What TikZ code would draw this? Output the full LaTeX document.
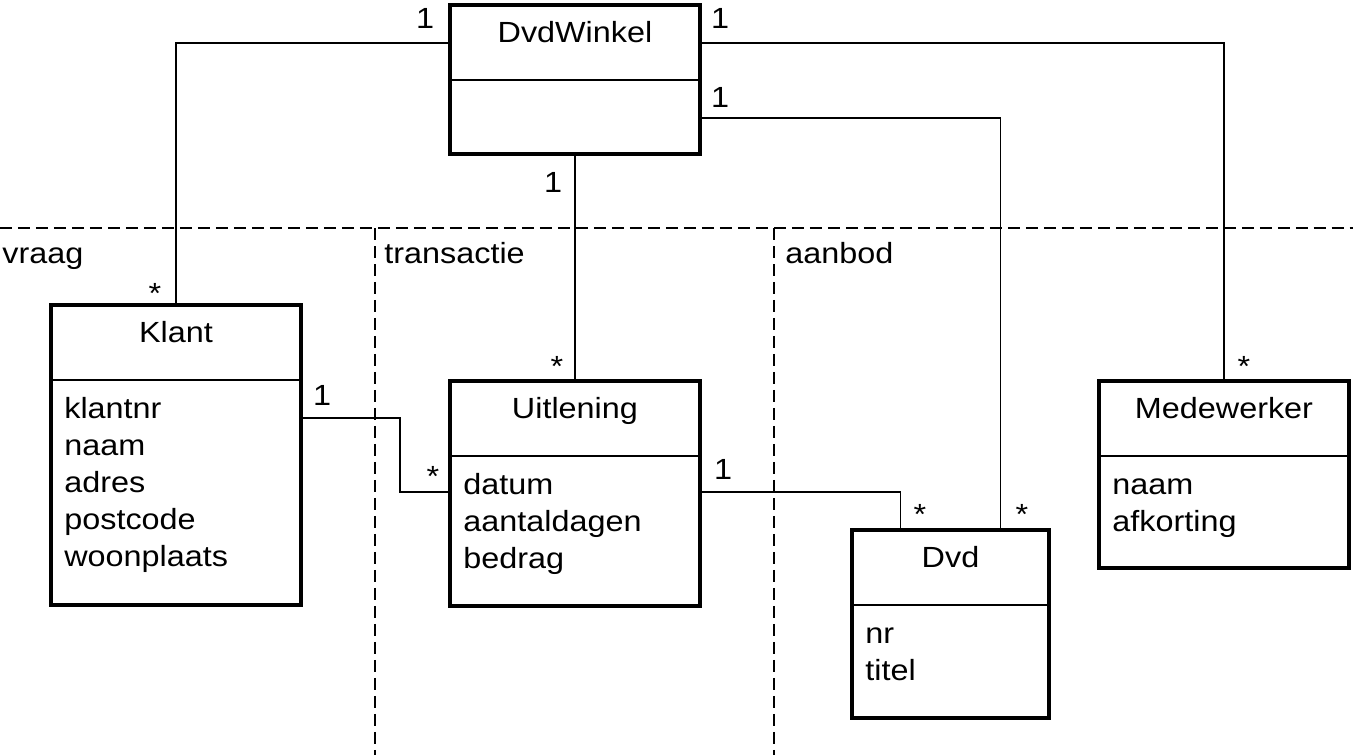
\documentclass[tikz,border=0pt]{standalone}
\usepackage{fontspec}
\setmainfont{Liberation Sans}[FakeStretch=1.11]
\usepackage{tikz}
\usepackage{xcolor}

\begin{document}
\begin{tikzpicture}[x=0.02cm, y=-0.02cm,
  font=\fontsize{16.6}{21}\selectfont,
  klasse/.style={draw, rectangle, line width=1.9pt, anchor=north west, outer sep=0pt, inner sep=0pt, minimum width=5cm},
  kop/.style={anchor=base, inner sep=0pt},
  attr/.style={anchor=base west, inner sep=0pt},
  deel/.style={line width=1.1pt},
  lijn/.style={line width=1.1pt},
  grens/.style={line width=0.7pt, dash pattern=on 0.24cm off 0.12cm},
  mult/.style={anchor=base, inner sep=0pt}]
\useasboundingbox (0,0) rectangle (1353,755);

% zones
\draw[grens] (0,228) -- (1353,228);
\draw[grens] (375,228) -- (375,755);
\draw[grens] (774,228) -- (774,755);
\node[anchor=base west, inner sep=0pt] (vraag) at (2,263) {vraag};
\node[anchor=base west, inner sep=0pt] (transactie) at (384,263) {transactie};
\node[anchor=base west, inner sep=0pt] (aanbod) at (785,263) {aanbod};

% classes
\node[klasse, minimum height=2.98cm] (dvdwinkel) at (450,5) {};
\node[klasse, minimum height=6cm] (klant) at (51,305) {};
\node[klasse, minimum height=4.5cm] (uitlening) at (450,381) {};
\node[klasse, minimum width=3.94cm, minimum height=3.76cm] (dvd) at (852,530) {};
\node[klasse, minimum height=3.74cm] (medewerker) at (1099,381) {};

\node[kop] (dvdwinkelkop) at ([yshift=-0.74cm]dvdwinkel.north) {DvdWinkel};
\node[kop] (klantkop) at ([yshift=-0.74cm]klant.north) {Klant};
\node[kop] (uitleningkop) at ([yshift=-0.74cm]uitlening.north) {Uitlening};
\node[kop] (dvdkop) at ([yshift=-0.74cm]dvd.north) {Dvd};
\node[kop] (medewerkerkop) at ([yshift=-0.74cm]medewerker.north) {Medewerker};

\draw[deel] ([yshift=-1.5cm]dvdwinkel.north west) -- ([yshift=-1.5cm]dvdwinkel.north east);
\draw[deel] ([yshift=-1.5cm]klant.north west) -- ([yshift=-1.5cm]klant.north east);
\draw[deel] ([yshift=-1.5cm]uitlening.north west) -- ([yshift=-1.5cm]uitlening.north east);
\draw[deel] ([yshift=-1.5cm]dvd.north west) -- ([yshift=-1.5cm]dvd.north east);
\draw[deel] ([yshift=-1.5cm]medewerker.north west) -- ([yshift=-1.5cm]medewerker.north east);

\node[attr] (klantattr) at ([xshift=0.26cm, yshift=-2.27cm]klant.north west)
  {\begin{tabular}[t]{@{}l@{}}klantnr\\naam\\adres\\postcode\\woonplaats\end{tabular}};
\node[attr] (uitleningattr) at ([xshift=0.26cm, yshift=-2.27cm]uitlening.north west)
  {\begin{tabular}[t]{@{}l@{}}datum\\aantaldagen\\bedrag\end{tabular}};
\node[attr] (dvdattr) at ([xshift=0.26cm, yshift=-2.27cm]dvd.north west)
  {\begin{tabular}[t]{@{}l@{}}nr\\titel\end{tabular}};
\node[attr] (medewerkerattr) at ([xshift=0.26cm, yshift=-2.27cm]medewerker.north west)
  {\begin{tabular}[t]{@{}l@{}}naam\\afkorting\end{tabular}};

% associations
\draw[lijn] ([yshift=-0.76cm]dvdwinkel.north west) -| (klant.north);
\draw[lijn] ([yshift=-0.76cm]dvdwinkel.north east) -| (medewerker.north);
\draw[lijn] ([yshift=-2.26cm]dvdwinkel.north east) -| ([xshift=1cm]dvd.north);
\draw[lijn] (dvdwinkel.south) -- (uitlening.north);
\draw[lijn] ([yshift=-2.26cm]klant.north east) -- ++(1.98cm,0) |- ([yshift=-2.22cm]uitlening.north west);
\draw[lijn] ([yshift=-2.22cm]uitlening.north east) -| ([xshift=-1cm]dvd.north);

% multiplicities
\node[mult] (m1) at (425,28) {1};
\node[mult] (m2) at (720,28) {1};
\node[mult] (m3) at (720,107) {1};
\node[mult] (m4) at (553,192) {1};
\node[mult] (m5) at (155,303) {*};
\node[mult] (m6) at (557,376) {*};
\node[mult] (m7) at (1244,376) {*};
\node[mult] (m8) at (322,405) {1};
\node[mult] (m9) at (433,486) {*};
\node[mult] (m10) at (723,479) {1};
\node[mult] (m11) at (920,524) {*};
\node[mult] (m12) at (1022,524) {*};
\end{tikzpicture}
\end{document}
